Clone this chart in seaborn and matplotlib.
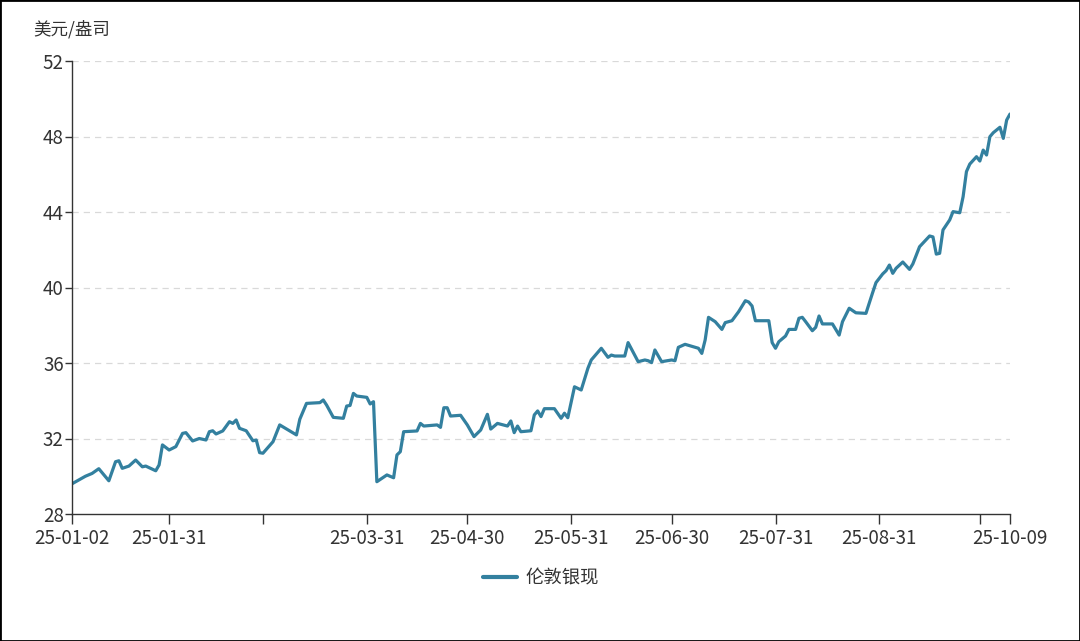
import pandas as pd
import matplotlib.pyplot as plt
import matplotlib.patches as mpatches
import seaborn as sns

# London silver spot, USD/oz
dates = [
    "2025-01-02", "2025-01-06", "2025-01-08", "2025-01-10", "2025-01-13", "2025-01-15",
    "2025-01-16", "2025-01-17", "2025-01-19", "2025-01-21", "2025-01-23", "2025-01-24",
    "2025-01-27", "2025-01-28", "2025-01-29", "2025-01-31", "2025-02-02", "2025-02-04",
    "2025-02-05", "2025-02-07", "2025-02-09", "2025-02-11", "2025-02-12", "2025-02-13",
    "2025-02-14", "2025-02-16", "2025-02-18", "2025-02-19", "2025-02-20", "2025-02-21",
    "2025-02-23", "2025-02-25", "2025-02-26", "2025-02-27", "2025-02-28", "2025-03-03",
    "2025-03-05", "2025-03-10", "2025-03-11", "2025-03-13", "2025-03-17", "2025-03-18",
    "2025-03-19", "2025-03-21", "2025-03-24", "2025-03-25", "2025-03-26", "2025-03-27",
    "2025-03-28", "2025-03-31", "2025-04-01", "2025-04-02", "2025-04-03", "2025-04-06",
    "2025-04-08", "2025-04-09", "2025-04-10", "2025-04-11", "2025-04-15", "2025-04-16",
    "2025-04-17", "2025-04-21", "2025-04-22", "2025-04-23", "2025-04-24", "2025-04-25",
    "2025-04-28", "2025-04-30", "2025-05-02", "2025-05-04", "2025-05-06", "2025-05-07",
    "2025-05-09", "2025-05-12", "2025-05-13", "2025-05-14", "2025-05-15", "2025-05-16",
    "2025-05-19", "2025-05-20", "2025-05-21", "2025-05-22", "2025-05-23", "2025-05-26",
    "2025-05-28", "2025-05-29", "2025-05-30", "2025-06-01", "2025-06-03", "2025-06-05",
    "2025-06-06", "2025-06-09", "2025-06-11", "2025-06-12", "2025-06-13", "2025-06-16",
    "2025-06-17", "2025-06-20", "2025-06-22", "2025-06-23", "2025-06-24", "2025-06-25",
    "2025-06-27", "2025-06-30", "2025-07-01", "2025-07-02", "2025-07-04", "2025-07-07",
    "2025-07-08", "2025-07-09", "2025-07-10", "2025-07-11", "2025-07-13", "2025-07-15",
    "2025-07-16", "2025-07-18", "2025-07-20", "2025-07-22", "2025-07-23", "2025-07-24",
    "2025-07-25", "2025-07-29", "2025-07-30", "2025-07-31", "2025-08-01", "2025-08-03",
    "2025-08-04", "2025-08-06", "2025-08-07", "2025-08-08", "2025-08-09", "2025-08-11",
    "2025-08-12", "2025-08-13", "2025-08-14", "2025-08-17", "2025-08-19", "2025-08-20",
    "2025-08-22", "2025-08-24", "2025-08-27", "2025-08-29", "2025-08-30", "2025-09-01",
    "2025-09-02", "2025-09-03", "2025-09-04", "2025-09-05", "2025-09-07", "2025-09-09",
    "2025-09-10", "2025-09-12", "2025-09-15", "2025-09-16", "2025-09-17", "2025-09-18",
    "2025-09-19", "2025-09-21", "2025-09-22", "2025-09-24", "2025-09-25", "2025-09-26",
    "2025-09-27", "2025-09-29", "2025-09-30", "2025-10-01", "2025-10-02", "2025-10-03",
    "2025-10-04", "2025-10-06", "2025-10-07", "2025-10-08", "2025-10-09",
]
prices = [
    29.60, 30.00, 30.15, 30.40, 29.76, 30.77,
    30.82, 30.42, 30.54, 30.86, 30.50, 30.54,
    30.29, 30.60, 31.66, 31.39, 31.57, 32.27,
    32.31, 31.87, 32.00, 31.92, 32.36, 32.41,
    32.24, 32.40, 32.89, 32.80, 32.98, 32.54,
    32.41, 31.88, 31.92, 31.25, 31.22, 31.83,
    32.72, 32.19, 33.02, 33.86, 33.90, 34.04,
    33.77, 33.12, 33.07, 33.72, 33.75, 34.39,
    34.25, 34.18, 33.83, 33.95, 29.71, 30.07,
    29.92, 31.13, 31.30, 32.36, 32.40, 32.80,
    32.66, 32.72, 32.59, 33.63, 33.63, 33.19,
    33.23, 32.72, 32.10, 32.45, 33.28, 32.50,
    32.80, 32.66, 32.93, 32.31, 32.66, 32.36,
    32.41, 33.25, 33.46, 33.16, 33.58, 33.58,
    33.07, 33.34, 33.10, 34.74, 34.57, 35.72,
    36.16, 36.78, 36.30, 36.42, 36.37, 36.37,
    37.08, 36.07, 36.16, 36.12, 36.02, 36.69,
    36.07, 36.16, 36.12, 36.83, 36.99, 36.83,
    36.78, 36.51, 37.22, 38.42, 38.19, 37.78,
    38.14, 38.24, 38.72, 39.30, 39.23, 39.02,
    38.24, 38.24, 37.08, 36.78, 37.13, 37.43,
    37.78, 37.78, 38.37, 38.42, 38.19, 37.71,
    37.89, 38.49, 38.07, 38.07, 37.48, 38.19,
    38.90, 38.66, 38.63, 39.73, 40.26, 40.72,
    40.89, 41.19, 40.75, 41.02, 41.35, 40.96,
    41.25, 42.16, 42.73, 42.68, 41.77, 41.81,
    43.05, 43.58, 44.02, 43.96, 44.81, 46.14,
    46.54, 46.93, 46.70, 47.28, 47.02, 47.99,
    48.20, 48.49, 47.90, 48.87, 49.19,
]

tick_dates = ["2025-01-02", "2025-01-31", "2025-02-28", "2025-03-31", "2025-04-30",
              "2025-05-31", "2025-06-30", "2025-07-31", "2025-08-31", "2025-09-30",
              "2025-10-09"]
tick_labels = ["25-01-02", "25-01-31", "", "25-03-31", "25-04-30",
               "25-05-31", "25-06-30", "25-07-31", "25-08-31", "", "25-10-09"]
y_ticks = [28, 32, 36, 40, 44, 48, 52]

series_name = "伦敦银现"
unit_label = "美元/盎司"
line_color = "#33809f"

df = pd.DataFrame({"date": pd.to_datetime(dates), "price": prices})

sns.set_theme(style="white")
plt.rcParams['font.family'] = ['Noto Sans CJK SC', 'DejaVu Sans']

fig = plt.figure(figsize=(10.8, 6.41), dpi=100)
ax = fig.add_axes([72 / 1080, 1 - 514 / 641, 938 / 1080, 453 / 641])

sns.lineplot(data=df, x="date", y="price", ax=ax, color=line_color,
             linewidth=2.3, label=series_name)

ax.set_xlim(pd.Timestamp(tick_dates[0]), pd.Timestamp(tick_dates[-1]))
ax.set_ylim(y_ticks[0], y_ticks[-1])
ax.set_yticks(y_ticks)
ax.set_xticks(pd.to_datetime(tick_dates))
ax.set_xticklabels(tick_labels)

# dashed horizontal gridlines
for v in y_ticks[1:]:
    ax.axhline(v, color="#d9d9d9", linestyle=(0, (5, 4)), linewidth=0.9, zorder=0)

ax.set_xlabel("")
ax.set_ylabel("")
for side in ["top", "right"]:
    ax.spines[side].set_visible(False)
for side in ["left", "bottom"]:
    ax.spines[side].set_color("#333333")
    ax.spines[side].set_linewidth(1.0)

ax.tick_params(axis="x", direction="out", length=7, width=1, color="#333333",
               labelsize=13.5, labelcolor="#333333", pad=3)
ax.tick_params(axis="y", direction="out", length=5, width=1, color="#333333",
               labelsize=13.5, labelcolor="#333333", pad=1)
ax.tick_params(bottom=True, left=True)

fig.text(33 / 1080, 1 - 29 / 641, unit_label, fontsize=12.6, color="#333333",
         ha="left", va="center")

leg = ax.legend(loc="center", bbox_to_anchor=(0.5, -0.143), frameon=False,
                fontsize=13.2, handlelength=1.85, handletextpad=0.5)
for t in leg.get_texts():
    t.set_color("#333333")
for line in leg.get_lines():
    line.set_linewidth(3.0)

fig.patches.append(mpatches.Rectangle((0, 0), 1, 1, transform=fig.transFigure,
                                      fill=False, edgecolor="black", linewidth=2))

fig.savefig("out.png", dpi=100)
